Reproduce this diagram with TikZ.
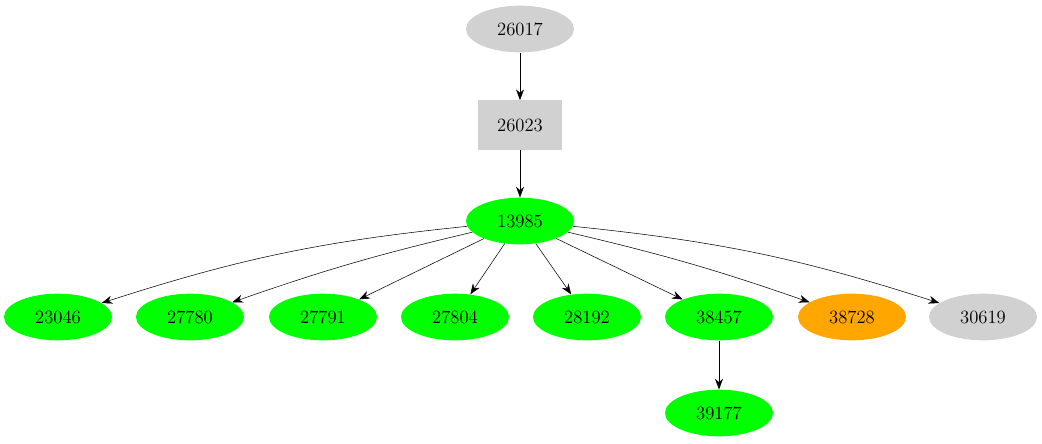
\documentclass[tikz,border=0pt]{standalone}
\usepackage{tikz}
\usetikzlibrary{arrows.meta,shapes.geometric}

\begin{document}
\begin{tikzpicture}[x=0.75pt,y=-0.75pt]
\def\cGray{black!18}
\def\cGreen{green!100!black}
\def\cOrange{orange!70!yellow}
\tikzset{
  vtx/.style={ellipse,minimum width=81pt,minimum height=35pt,inner sep=0pt,font=\fontsize{14}{16}\selectfont},
  box/.style={rectangle,minimum width=63pt,minimum height=37pt,inner sep=0pt,font=\fontsize{14}{16}\selectfont},
  edge/.style={-{Stealth[length=8pt,width=6pt]},thin}
}
\useasboundingbox (0,0) rectangle (1042,443);
\node[vtx,fill=\cGray] (n26017) at (520,29) {26017};
\node[box,fill=\cGray] (n26023) at (520,125) {26023};
\node[vtx,fill=\cGreen] (n13985) at (520,221) {13985};
\foreach \lbl/\x/\c in {23046/58/\cGreen,27780/190/\cGreen,27791/323/\cGreen,27804/455/\cGreen,28192/587/\cGreen,38457/719/\cGreen,38728/852/\cOrange,30619/983/\cGray}
  \node[vtx,fill=\c] (n\lbl) at (\x,317) {\lbl};
\node[vtx,fill=\cGreen] (n39177) at (719,413) {39177};
\draw[edge] (n26017) -- (n26023);
\draw[edge] (n26023) -- (n13985);
\draw[edge] (n13985) to[bend right=6] (n23046);
\draw[edge] (n13985) to[bend right=3] (n27780);
\draw[edge] (n13985) -- (n27791);
\draw[edge] (n13985) -- (n27804);
\draw[edge] (n13985) -- (n28192);
\draw[edge] (n13985) -- (n38457);
\draw[edge] (n13985) to[bend left=3] (n38728);
\draw[edge] (n13985) to[bend left=6] (n30619);
\draw[edge] (n38457) -- (n39177);
\end{tikzpicture}
\end{document}
